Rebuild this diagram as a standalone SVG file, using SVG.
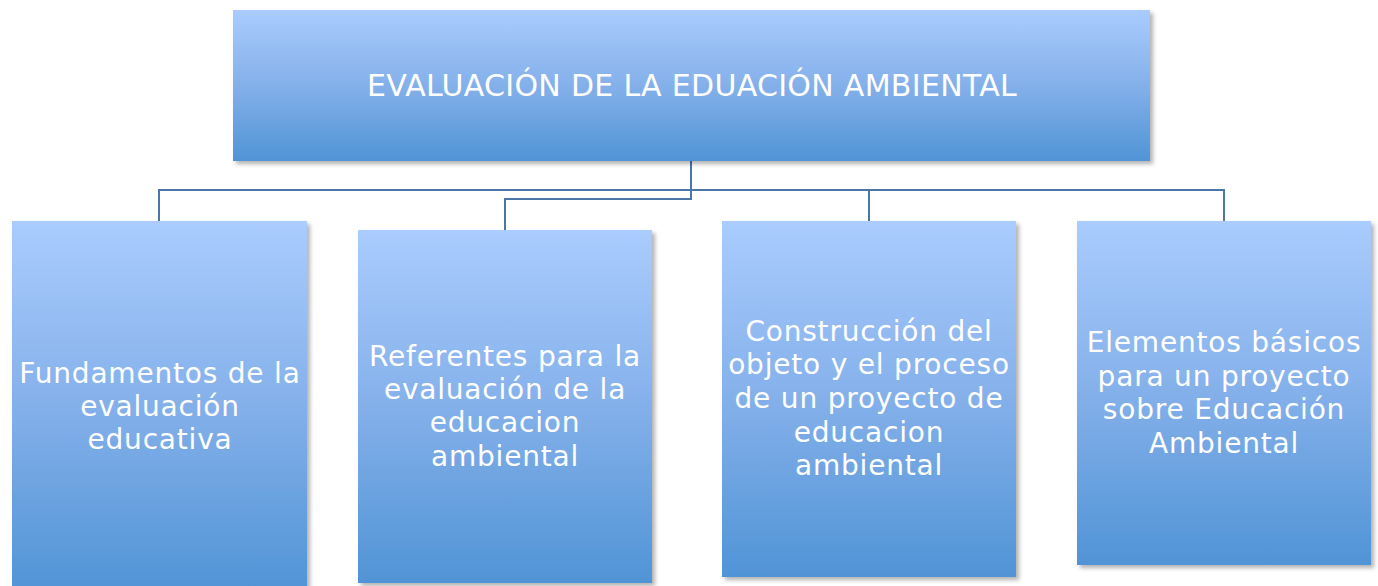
<svg xmlns="http://www.w3.org/2000/svg" width="1378" height="586" viewBox="0 0 1378 586">
<style>
.box{fill:url(#g);filter:url(#sh)}
.t{fill:#ffffff;font-family:"DejaVu Sans","Open Sans",sans-serif;font-weight:400;font-size:28px;letter-spacing:0.8px;text-anchor:middle}
.top{font-size:30px;letter-spacing:0.3px}
.c{fill:none;stroke:#4A77A8;stroke-width:2}
</style>
<defs>
<linearGradient id="g" x1="0" y1="0" x2="0" y2="1">
<stop offset="0" stop-color="#AACCFE"/>
<stop offset="0.5" stop-color="#84B0EA"/>
<stop offset="1" stop-color="#5094D6"/>
</linearGradient>
<filter id="sh" x="-5%" y="-5%" width="115%" height="115%">
<feDropShadow dx="3" dy="3" stdDeviation="2" flood-color="#000" flood-opacity="0.3"/>
</filter>
</defs>
<rect width="1378" height="586" fill="#ffffff"/>
<g id="connectors">
<path class="c" d="M691 161 V190 M159 221 V190 H1224 V221 M869 190 V221"/>
<path class="c" d="M691 190 V199 H505 V230"/>
</g>
<g id="n0">
<rect class="box" x="233" y="10" width="917" height="151"/>
<text class="t top" x="692" y="96">EVALUACIÓN DE LA EDUACIÓN AMBIENTAL</text>
</g>
<g id="n1">
<rect class="box" x="12" y="221" width="295" height="370"/>
<text class="t" x="160" y="383">Fundamentos de la</text>
<text class="t" x="160" y="416">evaluación</text>
<text class="t" x="160" y="449">educativa</text>
</g>
<g id="n2">
<rect class="box" x="358" y="230" width="294" height="353"/>
<text class="t" x="505" y="366">Referentes para la</text>
<text class="t" x="505" y="399">evaluación de la</text>
<text class="t" x="505" y="432">educacion</text>
<text class="t" x="505" y="466">ambiental</text>
</g>
<g id="n3">
<rect class="box" x="722" y="221" width="294" height="356"/>
<text class="t" x="869" y="341">Construcción del</text>
<text class="t" x="869" y="374">objeto y el proceso</text>
<text class="t" x="869" y="408">de un proyecto de</text>
<text class="t" x="869" y="442">educacion</text>
<text class="t" x="869" y="475">ambiental</text>
</g>
<g id="n4">
<rect class="box" x="1077" y="221" width="294" height="344"/>
<text class="t" x="1224" y="352">Elementos básicos</text>
<text class="t" x="1224" y="386">para un proyecto</text>
<text class="t" x="1224" y="419">sobre Educación</text>
<text class="t" x="1224" y="453">Ambiental</text>
</g>
</svg>
